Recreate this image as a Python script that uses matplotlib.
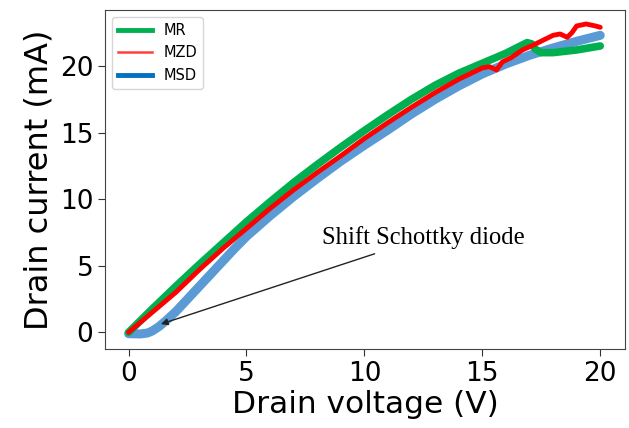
import matplotlib
matplotlib.use("Agg")
import matplotlib.pyplot as plt
from matplotlib.lines import Line2D

# Drain current vs drain voltage for three device variants
v_mr = [0, 1, 2, 3, 4, 5, 6, 7, 8, 9, 10, 11, 12, 13, 14, 15, 16, 16.5, 16.9, 17.1, 17.25, 17.5, 18, 19, 20]
i_mr = [0, 1.75, 3.45, 5.1, 6.7, 8.3, 9.8, 11.25, 12.6, 13.9, 15.15, 16.35, 17.5, 18.55, 19.45, 20.2,
        20.95, 21.4, 21.75, 21.65, 21.25, 21.0, 21.0, 21.2, 21.5]

v_mzd = [0, 1, 2, 3, 4, 5, 6, 7, 8, 9, 10, 11, 12, 13, 14, 15, 15.3, 15.6, 15.85, 16.2, 16.7, 17.2,
         17.6, 18, 18.3, 18.6, 18.8, 19.0, 19.4, 19.8, 20]
i_mzd = [0, 1.5, 3.0, 4.7, 6.3, 7.8, 9.3, 10.7, 12.0, 13.25, 14.55, 15.75, 16.9, 18.0, 19.0, 19.85,
         19.95, 19.7, 20.3, 20.6, 21.2, 21.6, 21.95, 22.3, 22.4, 22.15, 22.5, 23.0, 23.15, 23.0, 22.9]

v_msd = [0, 0.5, 0.8, 1.0, 1.3, 1.6, 2.0, 2.5, 3.0, 3.5, 4, 4.5, 5, 6, 7, 8, 9, 10, 11, 12, 13, 14,
         15, 16, 17, 18, 19, 20]
i_msd = [-0.1, -0.12, -0.05, 0.1, 0.45, 0.9, 1.55, 2.5, 3.45, 4.4, 5.35, 6.3, 7.2, 8.75, 10.2, 11.55,
         12.85, 14.05, 15.2, 16.4, 17.5, 18.5, 19.4, 20.15, 20.8, 21.35, 21.85, 22.3]

labels = ["MR", "MZD", "MSD"]
x_ticks = [0, 5, 10, 15, 20]
y_ticks = [0, 5, 10, 15, 20]

fig = plt.figure(figsize=(6.29, 4.28), dpi=100)
ax = fig.add_axes([105 / 629, 1 - 349 / 428, 520 / 629, 339 / 428])

style = dict(solid_capstyle="round", solid_joinstyle="round")
ax.plot(v_msd, i_msd, color="#5B9BD5", lw=6.5, zorder=2, **style)
ax.plot(v_mr, i_mr, color="#00B050", lw=5.5, zorder=3, **style)
ax.plot(v_mzd, i_mzd, color="#FF0000", lw=3.5, zorder=4, **style)

ax.set_xlim(-1.0, 21.05)
ax.set_ylim(-1.25, 24.2)
ax.set_xticks(x_ticks)
ax.set_yticks(y_ticks)
ax.tick_params(labelsize=19, length=5, color="#333333")
for s in ax.spines.values():
    s.set_color("#444444")

ax.set_xlabel("Drain voltage (V)", fontsize=22.5, labelpad=2)
ax.set_ylabel("Drain current (mA)", fontsize=23, labelpad=4)

handles = [
    Line2D([], [], color="#00B050", lw=3.5),
    Line2D([], [], color="#FF4040", lw=1.8),
    Line2D([], [], color="#0070C0", lw=3.5),
]
ax.legend(handles, labels, loc="upper left", fontsize=10.5, handlelength=2.3,
          framealpha=0.8)

ax.annotate("Shift Schottky diode", xy=(1.37, 0.62), xytext=(8.2, 7.1),
            fontsize=17.7, family="Liberation Serif", va="center", ha="left",
            arrowprops=dict(arrowstyle="-|>", color="#222222", lw=1.0,
                            shrinkA=4, shrinkB=0, mutation_scale=10))

fig.savefig("out.png", dpi=100)
